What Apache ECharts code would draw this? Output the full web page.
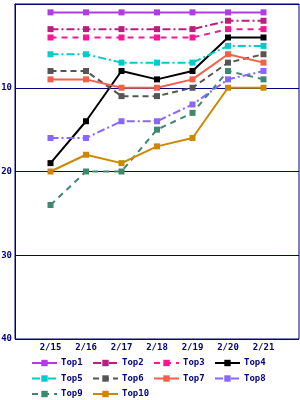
<!DOCTYPE html>
<html>
<head>
<meta charset="utf-8">
<script src="https://cdn.jsdelivr.net/npm/echarts@6/dist/echarts.min.js"></script>
<style>
  html, body { margin: 0; padding: 0; background: #fff; }
  #chart { width: 300px; height: 400px; }
</style>
</head>
<body>
<div id="chart"></div>
<script>
// days on the x axis
let days = ['2/15', '2/16', '2/17', '2/18', '2/19', '2/20', '2/21'];
let names = ['Top1', 'Top2', 'Top3', 'Top4', 'Top5', 'Top6', 'Top7', 'Top8', 'Top9', 'Top10'];
// rank per day
let top1 = [1, 1, 1, 1, 1, 1, 1];
let top2 = [3, 3, 3, 3, 3, 2, 2];
let top3 = [4, 4, 4, 4, 4, 3, 3];
let top4 = [19, 14, 8, 9, 8, 4, 4];
let top5 = [6, 6, 7, 7, 7, 5, 5];
let top6 = [8, 8, 11, 11, 10, 7, 6];
let top7 = [9, 9, 10, 10, 9, 6, 7];
let top8 = [16, 16, 14, 14, 12, 9, 8];
let top9 = [24, 20, 20, 15, 13, 8, 9];
let top10 = [20, 18, 19, 17, 16, 10, 10];
let yTicks = [0, 10, 20, 30, 40];

let colors = ['#b03ce6', '#c01c80', '#ff1493', '#000000', '#00cccc',
              '#555555', '#f0604a', '#8866ff', '#3e8870', '#cc8800'];
let dashes = ['solid', [8, 3, 2, 3], [6, 5], 'solid', [8, 3, 2, 3],
              [6, 4], 'solid', [8, 3, 2, 3], [6, 5], 'solid'];
let values = [top1, top2, top3, top4, top5, top6, top7, top8, top9, top10];

const NAVY = '#000080';
const FONT = 'DejaVu Sans Mono';

let series = names.map(function (n, i) {
    return {
        name: n,
        type: 'line',
        data: values[i].map(function (v, j) { return [j + 1, v]; }),
        symbol: 'rect',
        symbolSize: 6,
        showSymbol: true,
        animation: false,
        color: colors[i],
        lineStyle: { width: 2, type: dashes[i], color: colors[i] },
        itemStyle: { color: colors[i] }
    };
});

// one legend per item so the columns line up like the original
let legends = names.map(function (n, i) {
    return {
        data: [n],
        left: 31 + (i % 4) * 61,
        top: 358.5 + Math.floor(i / 4) * 15.5,
        itemWidth: 25,
        itemHeight: 8,
        itemGap: 0,
        padding: 0,
        textStyle: { fontFamily: FONT, fontWeight: 'bold', fontSize: 9, color: NAVY, padding: [0, 0, 0, -1] }
    };
});

let chart = echarts.init(document.getElementById('chart'), null, { renderer: 'canvas' });
chart.setOption({
    animation: false,
    grid: {
        left: 15, right: 1, top: 4, bottom: 61,
        show: true, borderColor: NAVY, borderWidth: 1,
        containLabel: false, outerBoundsMode: 'none'
    },
    legend: legends,
    xAxis: {
        type: 'value',
        min: 0, max: days.length + 1, interval: 1,
        axisLine: { show: true, lineStyle: { color: NAVY, width: 1 } },
        axisTick: { show: false },
        splitLine: { show: false },
        axisLabel: {
            margin: 4,
            fontFamily: FONT, fontWeight: 'bold', fontSize: 9, color: NAVY,
            formatter: function (v) { return days[v - 1] || ''; }
        }
    },
    yAxis: {
        type: 'value',
        inverse: true,
        min: yTicks[0], max: yTicks[yTicks.length - 1], interval: 10,
        axisLine: { show: true, lineStyle: { color: NAVY, width: 1 } },
        axisTick: { show: false },
        splitLine: { show: true, lineStyle: { color: NAVY, width: 1 } },
        axisLabel: {
            margin: 3,
            fontFamily: FONT, fontWeight: 'bold', fontSize: 9, color: NAVY,
            formatter: function (v) { return v === 0 ? '' : String(v); }
        }
    },
    series: series
});
</script>
</body>
</html>
